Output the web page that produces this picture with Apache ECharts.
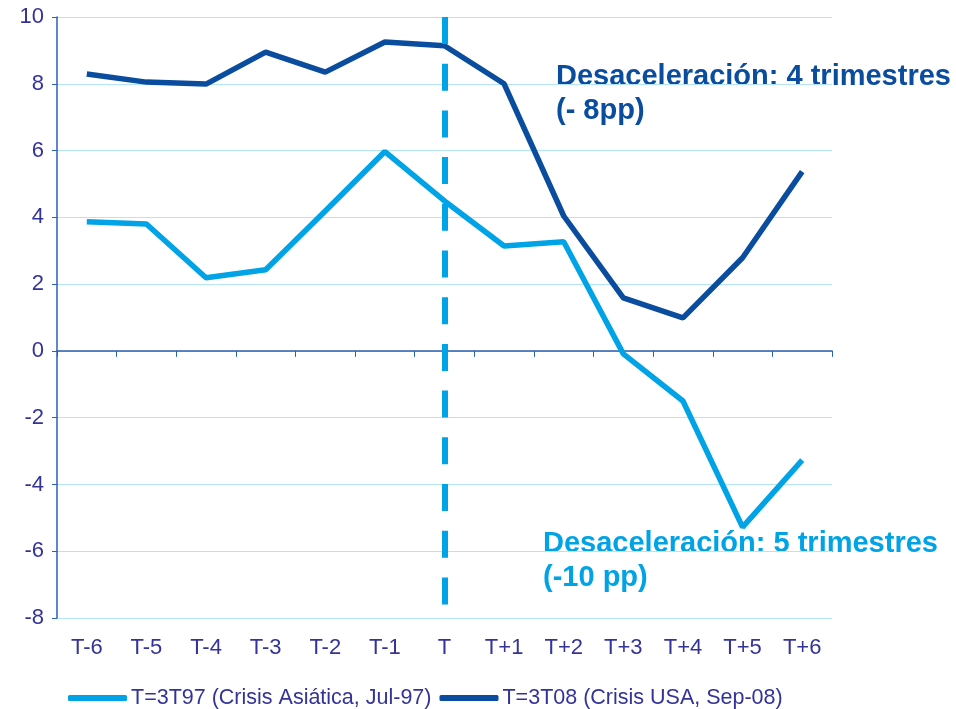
<!DOCTYPE html>
<html>
<head>
<meta charset="utf-8">
<script src="https://cdn.jsdelivr.net/npm/echarts@6/dist/echarts.min.js"></script>
<style>
  html, body { margin: 0; padding: 0; background: #fff; }
  #chart { width: 956px; height: 709px; }
</style>
</head>
<body>
<div id="chart"></div>
<script>
const categories = ['T-6', 'T-5', 'T-4', 'T-3', 'T-2', 'T-1', 'T', 'T+1', 'T+2', 'T+3', 'T+4', 'T+5', 'T+6']
const asiaValues = [3.87, 3.8, 2.19, 2.43, 4.19, 5.97, 4.49, 3.14, 3.27, -0.09, -1.5, -5.28, -3.27]
const usaValues = [8.29, 8.05, 7.99, 8.95, 8.35, 9.25, 9.14, 8.0, 4.04, 1.59, 0.99, 2.79, 5.37]
const seriesNames = ['T=3T97 (Crisis Asiática, Jul-97)', 'T=3T08 (Crisis USA, Sep-08)']

const textColor = '#333399'
const lightBlue = '#00a3e6'
const darkBlue = '#0a4c9e'
const font = 'Liberation Sans, Arial, sans-serif'

const chart = echarts.init(document.getElementById('chart'))

chart.setOption({
  animation: false,
  grid: { left: 57, right: 124, top: 17, bottom: 91 },
  legend: {
    top: 682,
    left: 63,
    itemWidth: 59,
    itemHeight: 6,
    itemGap: 8,
    icon: 'roundRect',
    textStyle: { color: textColor, fontSize: 21.5, fontFamily: font, padding: [0, 0, 0, -1] },
    data: seriesNames,
  },
  xAxis: [
    {
      type: 'category',
      data: categories,
      axisLine: { onZero: true, lineStyle: { color: '#2b5fb3', width: 1.5 } },
      axisTick: { show: true, length: 6, lineStyle: { color: '#2b5fb3' } },
      axisLabel: { show: false },
    },
    {
      type: 'category',
      data: categories,
      position: 'bottom',
      axisLine: { show: false },
      axisTick: { show: false },
      axisLabel: { color: textColor, fontSize: 22, fontFamily: font, margin: 19 },
    },
  ],
  yAxis: {
    type: 'value',
    min: -8,
    max: 10,
    interval: 2,
    axisLine: { show: true, lineStyle: { color: '#2b5fb3', width: 1.5 } },
    axisTick: { show: true, length: 5, lineStyle: { color: '#2b5fb3' } },
    axisLabel: { color: textColor, fontSize: 22, fontFamily: font, margin: 13 },
    splitLine: { lineStyle: { color: '#b3e5f7', width: 1 } },
  },
  series: [
    {
      name: seriesNames[0],
      type: 'line',
      data: asiaValues,
      showSymbol: false,
      lineStyle: { color: lightBlue, width: 5.5 },
      itemStyle: { color: lightBlue },
      markLine: {
        silent: true,
        symbol: 'none',
        label: { show: false },
        lineStyle: { color: lightBlue, width: 6, type: [27, 19.7] },
        data: [[{ coord: ['T', 10] }, { coord: ['T', -7.6] }]],
      },
    },
    {
      name: seriesNames[1],
      type: 'line',
      data: usaValues,
      showSymbol: false,
      lineStyle: { color: darkBlue, width: 5.5 },
      itemStyle: { color: darkBlue },
    },
  ],
  graphic: [
    {
      type: 'text',
      left: 556,
      top: 60,
      style: {
        text: 'Desaceleración: 4 trimestres\n(- 8pp)',
        fill: darkBlue,
        font: 'bold 29px ' + font,
        lineHeight: 34,
      },
    },
    {
      type: 'text',
      left: 543,
      top: 527,
      style: {
        text: 'Desaceleración: 5 trimestres\n(-10 pp)',
        fill: lightBlue,
        font: 'bold 29px ' + font,
        lineHeight: 34,
      },
    },
  ],
})
</script>
</body>
</html>
